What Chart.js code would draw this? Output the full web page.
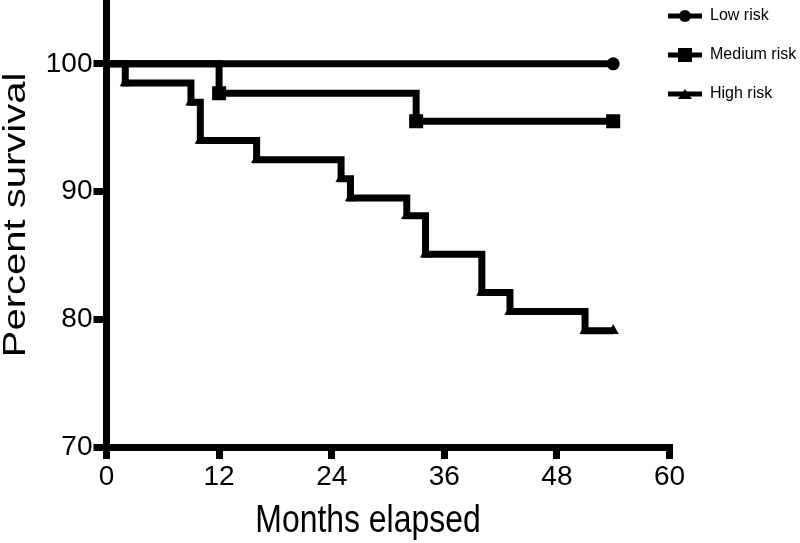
<!DOCTYPE html>
<html>
<head>
<meta charset="utf-8">
<script src="https://cdn.jsdelivr.net/npm/chart.js@4.4.1/dist/chart.umd.min.js"></script>
<style>
html, body { margin: 0; padding: 0; background: #fff; }
</style>
</head>
<body>
<canvas id="myChart" width="800" height="543"></canvas>
<script>
// survival steps (month, percent)
var lowMonths = [0, 54];
var lowSurvival = [100, 100];
var medMonths = [0, 12, 33, 54];
var medSurvival = [100, 97.7, 95.5, 95.5];
var highMonths = [0, 2, 9, 10, 16, 25, 26, 32, 34, 40, 43, 51, 54];
var highSurvival = [100, 98.5, 97.0, 94.0, 92.5, 91.0, 89.5, 88.1, 85.1, 82.1, 80.6, 79.1, 79.1];
var groupNames = ['Low risk', 'Medium risk', 'High risk'];
var xTicks = [0, 12, 24, 36, 48, 60];
var yTicks = [70, 80, 90, 100];

var sans = '"Liberation Sans", Arial, sans-serif';

function toPoints(xs, ys) {
    return xs.map(function (x, i) { return {x: x, y: ys[i]}; });
}

// little line + marker picture for the legend
function legendSymbol(style) {
    var c = document.createElement('canvas');
    c.width = 34;
    c.height = 16;
    var g = c.getContext('2d');
    g.fillStyle = '#000';
    g.fillRect(0, 5.5, 34, 5);
    g.beginPath();
    if (style === 'circle') {
        g.arc(17, 8, 6, 0, Math.PI * 2);
    } else if (style === 'rect') {
        g.rect(10, 1, 14, 14);
    } else {
        g.moveTo(10, 13);
        g.lineTo(24, 13);
        g.lineTo(17, 3);
        g.closePath();
    }
    g.fill();
    return c;
}

function curve(label, xs, ys, style, r) {
    return {
        label: label,
        data: toPoints(xs, ys),
        stepped: 'before',
        borderColor: '#000',
        backgroundColor: '#000',
        borderWidth: 7,
        fill: false,
        pointStyle: style,
        pointRadius: function (c) { return c.dataIndex === 0 ? 0 : r; },
        pointHoverRadius: 0,
        pointBorderWidth: 0,
        pointBackgroundColor: '#000'
    };
}

var styles = ['circle', 'rect', 'triangle'];

// legend sits over the top right corner
var legendPlace = {
    id: 'legendPlace',
    afterLayout: function (chart) {
        var lg = chart.legend;
        lg.left = 645;
        lg.right = 800;
        lg.width = 155;
        lg.top = -15;
        lg.bottom = 543;
        lg.height = 558;
    }
};

// axis titles, placed where the original has them (original type is condensed)
var axisTitles = {
    id: 'axisTitles',
    afterDraw: function (chart) {
        var ctx = chart.ctx;
        ctx.save();
        ctx.fillStyle = '#000';
        ctx.textAlign = 'center';
        ctx.textBaseline = 'alphabetic';
        ctx.save();
        ctx.font = '38px ' + sans;
        ctx.translate(368, 532);
        ctx.scale(0.84, 1);
        ctx.fillText('Months elapsed', 0, 0);
        ctx.restore();
        ctx.font = '40px ' + sans;
        ctx.translate(25, 215);
        ctx.rotate(-Math.PI / 2);
        ctx.scale(1, 0.77);
        ctx.fillText('Percent survival', 0, 0);
        ctx.restore();
    }
};

var ctx = document.getElementById('myChart').getContext('2d');
var chart = new Chart(ctx, {
    type: 'line',
    data: {
        datasets: [
            curve(groupNames[0], lowMonths, lowSurvival, 'circle', 6.5),
            curve(groupNames[1], medMonths, medSurvival, 'rect', 9.9),
            curve(groupNames[2], highMonths, highSurvival, 'triangle', 6.5)
        ]
    },
    options: {
        responsive: false,
        animation: false,
        layout: { padding: 0, autoPadding: false },
        plugins: {
            tooltip: { enabled: false },
            legend: {
                position: 'right',
                align: 'start',
                maxWidth: 130.5,
                labels: {
                    usePointStyle: true,
                    pointStyleWidth: 34,
                    padding: 23,
                    color: '#000',
                    font: { family: sans, size: 16, lineHeight: 1 },
                    generateLabels: function (chart) {
                        return chart.data.datasets.map(function (ds, i) {
                            return {
                                text: ds.label,
                                pointStyle: legendSymbol(styles[i]),
                                fillStyle: '#000',
                                strokeStyle: '#000',
                                lineWidth: 0,
                                hidden: false,
                                datasetIndex: i
                            };
                        });
                    }
                }
            }
        },
        scales: {
            x: {
                type: 'linear',
                min: 0,
                max: 60,
                afterBuildTicks: function (s) { s.ticks = xTicks.map(function (v) { return {value: v}; }); },
                afterFit: function (s) { s.height = 96; },
                grid: { display: true, drawOnChartArea: false, drawTicks: true, tickLength: 12, lineWidth: 7, color: '#000' },
                border: { display: true, width: 7, color: '#000' },
                ticks: { color: '#000', padding: 1, font: { family: sans, size: 28 } }
            },
            y: {
                min: 70,
                max: 105,
                afterBuildTicks: function (s) { s.ticks = yTicks.map(function (v) { return {value: v}; }); },
                afterFit: function (s) { s.width = 106.5; s.paddingTop = 0; s.paddingBottom = 0; },
                grid: { display: true, drawOnChartArea: false, drawTicks: true, tickLength: 13, lineWidth: 7, color: '#000' },
                border: { display: true, width: 7, color: '#000' },
                ticks: { color: '#000', padding: 1, font: { family: sans, size: 28 } }
            }
        }
    },
    plugins: [legendPlace, axisTitles]
});
</script>
</body>
</html>
